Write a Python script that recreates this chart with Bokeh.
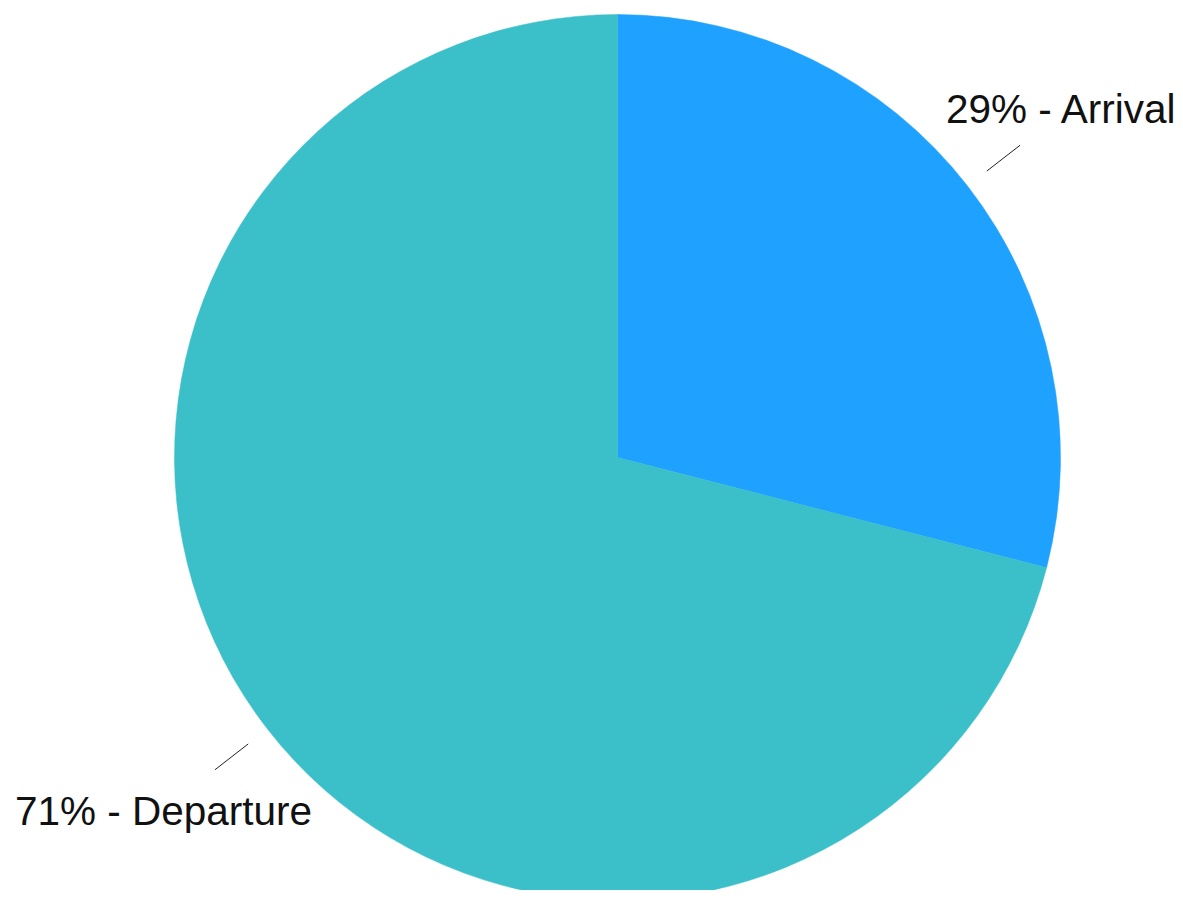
import math
from bokeh.plotting import figure
from bokeh.models import Range1d
from bokeh.core.properties import value
from bokeh.embed import file_html
from bokeh.resources import INLINE

# data
categories = ["Arrival", "Departure"]
shares = [29, 71]
colors = ["#1ea1ff", "#3bbfc8"]

W, H = 1175, 890
p = figure(width=W, height=H, output_backend="svg", toolbar_location=None,
           x_range=Range1d(0, W), y_range=Range1d(898 - H, 898),
           min_border=0, outline_line_color=None)
p.axis.visible = False
p.grid.visible = False
p.background_fill_color = "white"
p.border_fill_color = "white"

cx, cy, r = 617, 898 - 457, 443
total = sum(shares)
start = math.pi / 2
starts, ends, mids = [], [], []
for s in shares:
    sweep = 2 * math.pi * s / total
    starts.append(start)
    ends.append(start - sweep)
    mids.append(start - sweep / 2)
    start -= sweep

p.wedge(x=[cx] * len(shares), y=[cy] * len(shares), radius=r,
        start_angle=starts, end_angle=ends, direction="clock",
        fill_color=colors, line_color=colors, line_width=0.5)

# leader lines and labels
offsets = {"Arrival": (-74, 36, "left"), "Departure": (-200, -41, "left")}
for cat, s, m in zip(categories, shares, mids):
    x0, y0 = cx + 1.055 * r * math.cos(m), cy + 1.055 * r * math.sin(m)
    x1, y1 = cx + 1.15 * r * math.cos(m), cy + 1.15 * r * math.sin(m)
    p.line([x0, x1], [y0, y1], line_color="#222222", line_width=1)
    dx, dy, al = offsets[cat]
    p.text(x=[x1 + dx], y=[y1 + dy], text=[f"{s}% - {cat}"],
           text_font=value("Liberation Sans"), text_font_size="40.5px",
           text_color="#111111", text_align=al, text_baseline="alphabetic")

open("out.html", "w").write(file_html(p, INLINE))
